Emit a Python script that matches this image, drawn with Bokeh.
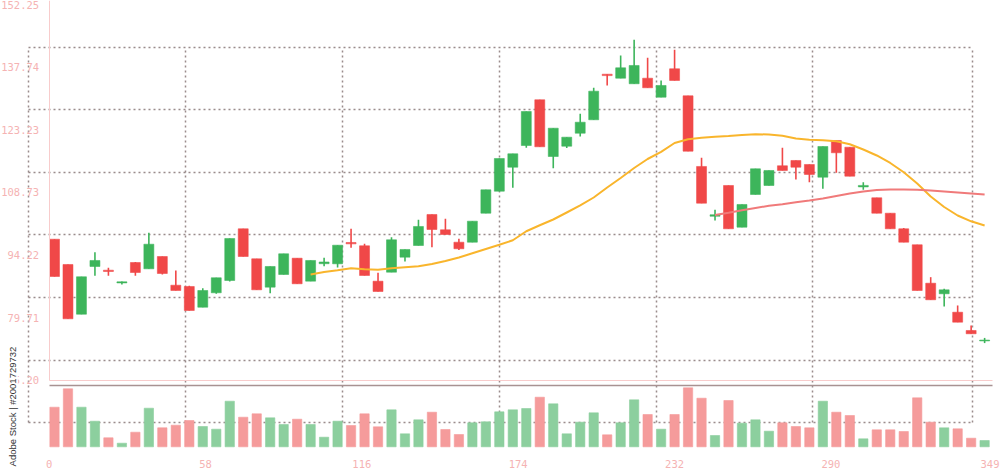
import math
from bokeh.plotting import figure
from bokeh.models import (Range1d, LinearAxis, FixedTicker, PrintfTickFormatter,
                          Grid, Label, ColumnDataSource)
from bokeh.embed import file_html
from bokeh.resources import INLINE

# ---------------- data ----------------
opens = [97.88, 92.02, 80.50, 91.56, 90.70, 87.75, 92.48, 91.02, 93.87, 87.22,
         86.92, 82.12, 85.46, 88.31, 100.29, 93.34, 86.76, 89.70, 93.48, 88.15,
         92.20, 92.18, 97.12, 96.35, 88.15, 90.23, 93.71, 96.42, 103.61, 100.06,
         97.19, 97.19, 103.91, 109.01, 114.57, 119.60, 130.20, 117.05, 119.44, 122.45,
         125.56, 136.13, 135.20, 133.91, 135.20, 130.80, 137.38, 131.12, 114.74, 103.20,
         110.33, 100.67, 108.25, 110.33, 114.90, 116.13, 115.20, 112.26, 120.76, 119.21,
         110.00, 107.48, 103.91, 100.29, 96.59, 87.68, 85.23, 80.96, 76.72, 74.30]
highs = [97.88, 92.02, 89.17, 94.87, 91.25, 88.10, 92.60, 99.37, 93.87, 90.63,
         87.10, 86.53, 88.94, 98.05, 100.29, 93.34, 91.56, 94.50, 93.48, 92.95,
         93.57, 96.49, 100.29, 96.80, 90.10, 98.35, 95.50, 102.38, 103.61, 102.61,
         97.98, 102.06, 109.33, 116.59, 117.68, 127.48, 130.20, 123.61, 121.53, 126.95,
         132.98, 136.13, 140.47, 144.10, 139.93, 134.67, 141.79, 131.12, 116.75, 104.70,
         110.33, 105.93, 114.20, 113.81, 119.07, 116.13, 115.20, 119.37, 120.76, 119.21,
         111.10, 107.48, 103.91, 100.50, 96.59, 89.08, 86.39, 82.52, 77.88, 75.00]
lows = [89.24, 79.43, 80.50, 89.40, 89.40, 87.40, 89.40, 91.02, 89.70, 85.99,
        81.36, 82.12, 85.23, 88.08, 93.87, 86.15, 85.37, 89.70, 87.55, 88.15,
        91.63, 91.32, 95.89, 89.47, 85.76, 90.23, 92.71, 96.42, 96.03, 98.97,
        95.40, 97.19, 103.91, 109.01, 109.80, 119.07, 119.30, 114.34, 119.00, 121.69,
        125.56, 133.51, 135.20, 133.91, 132.98, 130.80, 134.67, 118.28, 106.23, 102.22,
        100.29, 100.67, 108.25, 110.33, 113.81, 111.72, 111.10, 109.57, 113.28, 112.49,
        109.33, 103.91, 100.29, 97.19, 85.99, 83.84, 82.28, 78.64, 75.96, 73.80]
closes = [89.24, 79.43, 89.17, 92.95, 90.40, 88.00, 90.16, 96.72, 89.93, 85.99,
          81.36, 85.99, 88.94, 98.05, 93.87, 86.15, 91.56, 94.50, 87.55, 92.95,
          92.60, 96.49, 96.80, 89.47, 85.76, 97.74, 95.50, 100.83, 100.13, 98.97,
          95.66, 102.06, 109.33, 116.59, 117.68, 127.48, 119.30, 123.61, 121.53, 125.00,
          132.19, 135.80, 137.61, 138.15, 132.98, 133.51, 134.67, 118.28, 106.23, 103.55,
          100.29, 105.93, 114.20, 113.81, 113.81, 114.57, 112.88, 119.37, 117.91, 112.49,
          110.35, 103.91, 100.29, 97.19, 85.99, 83.84, 86.15, 78.64, 75.96, 74.50]
volumes = [396, 580, 396, 256, 90, 36, 146, 386, 190, 216,
           263, 203, 176, 456, 296, 330, 290, 223, 276, 223,
           96, 256, 213, 330, 200, 370, 130, 270, 346, 173,
           123, 240, 250, 350, 370, 383, 496, 430, 130, 246,
           340, 120, 240, 470, 323, 176, 323, 590, 486, 113,
           463, 236, 270, 156, 240, 203, 190, 456, 346, 313,
           80, 170, 170, 153, 490, 246, 190, 180, 86, 63]
# moving averages (orange from candle 19, red from candle 49)
ma_orange = [89.70, 90.28, 90.67, 91.16, 90.93, 90.79, 91.14, 91.37, 91.60, 92.14,
             92.83, 93.64, 94.62, 95.61, 96.59, 97.63, 99.72, 101.11, 102.45, 104.07,
             105.70, 107.55, 109.87, 112.07, 114.39, 116.47, 118.14, 120.18, 121.06, 121.39,
             121.62, 121.81, 122.04, 122.22, 122.15, 121.88, 121.23, 120.92, 120.81, 120.60,
             119.90, 118.68, 117.29, 115.55, 113.41, 110.80, 107.78, 105.35, 103.38, 102.03,
             101.06]
ma_red = [103.47, 104.00, 104.58, 105.12, 105.63, 105.97, 106.44, 106.85, 107.32, 107.90,
          108.48, 108.94, 109.29, 109.40, 109.40, 109.33, 109.17, 108.94, 108.71, 108.48,
          108.25]
x_tick_labels = [0, 58, 116, 174, 232, 290, 349]
y_tick_labels = [65.20, 79.71, 94.22, 108.73, 123.23, 137.74, 152.25]
orange_start = 19
red_start = 49

# ---------------- styling ----------------
GREEN = "#3db55b"
RED = "#f04848"
VGREEN = "#8ccf9e"
VRED = "#f59b9b"
PINK_TXT = "#f5b3b3"
PINK_LINE = "#f8cccc"
GRID = "#8f7f7f"

n = len(opens)
days = [5 * i + 2 for i in range(n)]
up = [c >= o for o, c in zip(opens, closes)]
ccol = [GREEN if u else RED for u in up]
vcol = [VGREEN if u else VRED for u in up]

src = ColumnDataSource(dict(
    x=days, o=opens, h=highs, l=lows, c=closes,
    t=[max(o, c) for o, c in zip(opens, closes)],
    b=[min(o, c) for o, c in zip(opens, closes)],
    col=ccol, v=volumes, vc=vcol))

W, H = 1000, 469
p = figure(width=W, height=H, output_backend="svg", toolbar_location=None,
           x_range=Range1d(-18.03, 352.89), y_range=Range1d(44.50, 153.21),
           x_axis_location=None, y_axis_location=None, min_border=0,
           outline_line_color=None, background_fill_color="white",
           border_fill_color="white")
p.grid.visible = False

p.extra_x_ranges = {"gx": Range1d(-10.35, 359.33)}
p.extra_y_ranges = {"gy": Range1d(54.377, 163.07), "vol": Range1d(-227, 4463)}

# dotted grid (offset layer)
gkw = dict(grid_line_color=GRID, grid_line_alpha=0.9, grid_line_width=1.5,
           grid_line_dash="2 3", x_range_name="gx", y_range_name="gy")
vgrid = Grid(dimension=0, ticker=FixedTicker(ticks=x_tick_labels), **gkw)
hgrid = Grid(dimension=1, ticker=FixedTicker(ticks=y_tick_labels), **gkw)
if "cross_bounds" in Grid.properties():
    vgrid.cross_bounds = (y_tick_labels[0], y_tick_labels[-1])
    hgrid.cross_bounds = (x_tick_labels[0], x_tick_labels[-1])
p.add_layout(vgrid)
p.add_layout(hgrid)

# axes
yaxis = LinearAxis(fixed_location=0, bounds=(65.2, 153.21),
                   ticker=FixedTicker(ticks=y_tick_labels),
                   formatter=PrintfTickFormatter(format="%.2f"),
                   axis_line_color=PINK_LINE, axis_line_width=1,
                   major_tick_line_color=None, minor_tick_line_color=None,
                   major_tick_out=0, major_tick_in=0, major_label_standoff=10,
                   major_label_text_color=PINK_TXT,
                   major_label_text_font="DejaVu Sans Mono",
                   major_label_text_font_size="10.5px")
p.add_layout(yaxis, "left")

xline = LinearAxis(fixed_location=65.2, bounds=(0, 350), ticker=FixedTicker(ticks=[]),
                   axis_line_color=PINK_LINE, axis_line_width=1,
                   major_tick_line_color=None, minor_tick_line_color=None,
                   major_label_text_font_size="0px")
p.add_layout(xline, "below")

sep = LinearAxis(fixed_location=63.9, bounds=(0, 350), ticker=FixedTicker(ticks=[]),
                 axis_line_color="#a89292", axis_line_width=1.5,
                 major_tick_line_color=None, minor_tick_line_color=None,
                 major_label_text_font_size="0px")
p.add_layout(sep, "below")

xaxis = LinearAxis(fixed_location=47.05, ticker=FixedTicker(ticks=x_tick_labels),
                   axis_line_color=None, major_tick_line_color=None,
                   minor_tick_line_color=None, major_tick_out=0, major_tick_in=0,
                   major_label_standoff=2, major_label_text_color=PINK_TXT,
                   major_label_text_font="DejaVu Sans Mono",
                   major_label_text_font_size="10.5px")
p.add_layout(xaxis, "below")

# volume
p.vbar(x="x", top="v", bottom=0, width=3.45, fill_color="vc", line_color="vc",
       line_alpha=0.6, line_width=1, y_range_name="vol", source=src)

# candles
p.segment(x0="x", y0="h", x1="x", y1="l", line_color="col", line_width=1.6, source=src)
p.vbar(x="x", top="t", bottom="b", width=3.7, fill_color="col", line_color="col",
       line_alpha=0.55, line_width=1, source=src)

# moving averages
p.line(days[orange_start:], ma_orange, line_color="#f9b52c", line_width=2)
p.line(days[red_start:], ma_red, line_color="#f07a7a", line_width=2)

# stock id
p.add_layout(Label(x=-13.6, y=59.1, angle=math.pi / 2, text="Adobe Stock | #2001729732",
                   text_align="center", text_baseline="middle",
                   text_font="Liberation Sans", text_font_size="9.5px",
                   text_color="#333333", background_fill_color="white",
                   background_fill_alpha=0.9))

open("out.html", "w").write(file_html(p, INLINE))
